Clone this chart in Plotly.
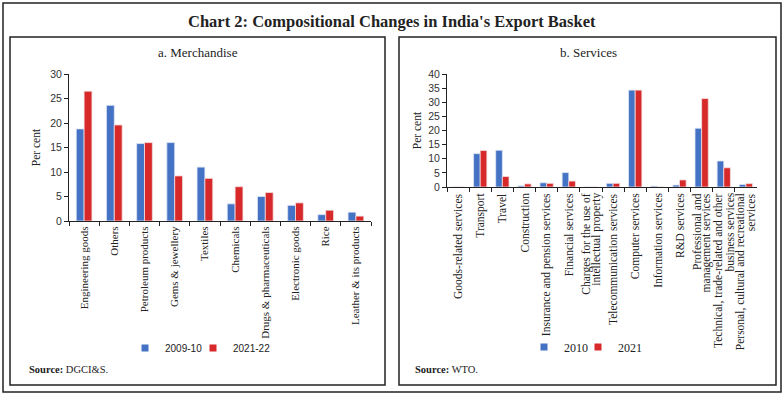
import plotly.graph_objects as go

W, H = 784, 395

merch_cats = ["Engineering goods", "Others", "Petroleum products", "Gems & jewellery",
              "Textiles", "Chemicals", "Drugs & pharmaceuticals", "Electronic goods",
              "Rice", "Leather & its products"]
merch_2009 = [18.8, 23.6, 15.8, 16.0, 11.0, 3.5, 5.0, 3.2, 1.3, 1.8]
merch_2021 = [26.5, 19.6, 16.0, 9.2, 8.7, 7.0, 5.8, 3.7, 2.2, 1.0]

serv_cats = ["Goods-related services", "Transport", "Travel", "Construction",
             "Insurance and pension services", "Financial services",
             "Charges for the use of<br>intellectual property",
             "Telecommunication services", "Computer services", "Information services",
             "R&D services", "Professional and<br>management services",
             "Technical, trade-related and other<br>business services",
             "Personal, cultural and recreational<br>services"]
serv_2010 = [0.0, 11.8, 13.0, 0.4, 1.5, 5.1, 0.0, 1.3, 34.3, 0.3, 0.7, 20.8, 9.2, 0.9]
serv_2021 = [0.0, 12.9, 3.7, 1.1, 1.3, 2.1, 0.0, 1.3, 34.3, 0.0, 2.5, 31.3, 6.8, 1.2]

merch_ticks = [0, 5, 10, 15, 20, 25, 30]
serv_ticks = [0, 5, 10, 15, 20, 25, 30, 35, 40]

BLUE = "#4472C4"
RED = "#D7292A"
SERIF = "Liberation Serif"

def px_x(x):
    return x / W

def px_y(y):
    return 1 - y / H

fig = go.Figure()

wL = 0.26
fig.add_trace(go.Bar(x=merch_cats, y=merch_2009, name="2009-10", marker_color=BLUE,
                     marker_line=dict(color="#dfe6f3", width=0.8), width=wL, offset=-wL,
                     xaxis="x", yaxis="y", showlegend=False))
fig.add_trace(go.Bar(x=merch_cats, y=merch_2021, name="2021-22", marker_color=RED,
                     marker_line=dict(color="#f3dede", width=0.8), width=wL, offset=0,
                     xaxis="x", yaxis="y", showlegend=False))
wR = 0.3
fig.add_trace(go.Bar(x=serv_cats, y=serv_2010, name="2010", marker_color=BLUE,
                     marker_line=dict(color="#dfe6f3", width=0.8), width=wR, offset=-wR,
                     xaxis="x2", yaxis="y2", showlegend=False))
fig.add_trace(go.Bar(x=serv_cats, y=serv_2021, name="2021", marker_color=RED,
                     marker_line=dict(color="#f3dede", width=0.8), width=wR, offset=0,
                     xaxis="x2", yaxis="y2", showlegend=False))

# legend-only entries (small square keys), one legend each so they can sit close together
legend_entries = [("2009-10", BLUE, "legend", "x", "y"),
                  ("2021-22", RED, "legend2", "x", "y"),
                  ("2010", BLUE, "legend3", "x2", "y2"),
                  ("2021", RED, "legend4", "x2", "y2")]
for name, col, leg, xa, ya in legend_entries:
    fig.add_trace(go.Scatter(x=[None], y=[None], mode="markers", name=name,
                             marker=dict(symbol="square", size=7, color=col),
                             xaxis=xa, yaxis=ya, legend=leg, showlegend=True))

axis_common = dict(showline=True, linecolor="#222", linewidth=1, showgrid=False,
                   zeroline=False, ticks="outside", ticklen=4, tickcolor="#222",
                   automargin=False)

def leg(x, y, family, size):
    return dict(orientation="h", x=px_x(x), y=px_y(y), xanchor="left", yanchor="middle",
                font=dict(family=family, size=size, color="#222"),
                bgcolor="rgba(0,0,0,0)", borderwidth=0)

fig.update_layout(
    template="none",
    width=W, height=H, margin=dict(l=0, r=0, t=0, b=0, pad=0),
    paper_bgcolor="white", plot_bgcolor="white",
    barmode="overlay",
    font=dict(family=SERIF, color="#222", size=11),
    xaxis=dict(domain=[px_x(69), px_x(371)], anchor="y", type="category",
               tickangle=-90, tickson="boundaries", tickfont=dict(family=SERIF, size=11),
               range=[-0.5, len(merch_cats) - 0.5], **axis_common),
    yaxis=dict(domain=[px_y(221), px_y(74)], anchor="x", range=[0, 30],
               tickvals=merch_ticks, tickfont=dict(family="Liberation Sans", size=10.5, color="#333"),
               title=dict(text="Per cent", font=dict(family=SERIF, size=11.5), standoff=7),
               **axis_common),
    xaxis2=dict(domain=[px_x(447), px_x(757)], anchor="y2", type="category",
                tickson="boundaries", showticklabels=False,
                range=[-0.5, len(serv_cats) - 0.5], **axis_common),
    yaxis2=dict(domain=[px_y(187), px_y(74)], anchor="x2", range=[0, 40],
                tickvals=serv_ticks, tickfont=dict(family="Liberation Sans", size=10.5, color="#333"),
                title=dict(text="Per cent", font=dict(family=SERIF, size=11.5), standoff=4),
                **axis_common),
    legend=leg(125, 348, "Liberation Sans", 10),
    legend2=leg(193, 348, "Liberation Sans", 10),
    legend3=leg(524, 347, SERIF, 12),
    legend4=leg(578, 347, SERIF, 12),
)

shapes = [
    dict(type="rect", xref="paper", yref="paper", x0=px_x(3), x1=px_x(781), y0=px_y(392), y1=px_y(3),
         line=dict(color="#222", width=1.5)),
    dict(type="rect", xref="paper", yref="paper", x0=px_x(10), x1=px_x(385), y0=px_y(385), y1=px_y(37),
         line=dict(color="#222", width=1.5)),
    dict(type="rect", xref="paper", yref="paper", x0=px_x(399), x1=px_x(776), y0=px_y(385), y1=px_y(37),
         line=dict(color="#222", width=1.5)),
]
fig.update_layout(shapes=shapes)

annotations = [
    dict(text="<b>Chart 2: Compositional Changes in India's Export Basket</b>", x=0.5, y=px_y(22),
         xanchor="center", yanchor="middle",
         xref="paper", yref="paper", showarrow=False, font=dict(family=SERIF, size=16.5, color="#222")),
    dict(text="a. Merchandise", x=px_x(198), y=px_y(52), xref="paper", yref="paper",
         xanchor="center", yanchor="middle",
         showarrow=False, font=dict(family=SERIF, size=13, color="#222")),
    dict(text="b. Services", x=px_x(588), y=px_y(52), xref="paper", yref="paper",
         xanchor="center", yanchor="middle",
         showarrow=False, font=dict(family=SERIF, size=13, color="#222")),
    dict(text="<b>Source:</b> DGCI&S.", x=px_x(27), y=px_y(369), xref="paper", yref="paper",
         xanchor="left", yanchor="middle", showarrow=False,
         font=dict(family=SERIF, size=10.5, color="#222")),
    dict(text="<b>Source:</b> WTO.", x=px_x(413), y=px_y(369), xref="paper", yref="paper",
         xanchor="left", yanchor="middle", showarrow=False,
         font=dict(family=SERIF, size=10.5, color="#222")),
]
# services category labels, placed on the category axis below the baseline;
# two-line labels are set as two tightly spaced rotated lines centred on the category
LINE_GAP = 10.5
for cat in serv_cats:
    lines = cat.split("<br>")
    n = len(lines)
    for i, line in enumerate(lines):
        annotations.append(dict(text=line, x=cat, xref="x2", y=px_y(191), yref="paper",
                                xanchor="center", yanchor="top", textangle=-90,
                                xshift=(i - (n - 1) / 2) * LINE_GAP,
                                showarrow=False, font=dict(family=SERIF, size=11.5, color="#222")))
fig.update_layout(annotations=annotations)

fig.write_html("out.html", config={"displayModeBar": False},
               post_script="document.body.style.margin='0';")
